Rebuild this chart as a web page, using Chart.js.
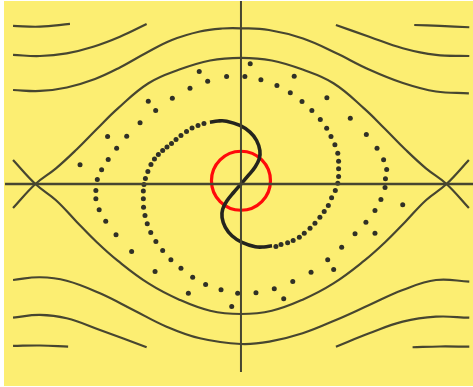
<!DOCTYPE html>
<html>
<head>
<meta charset="utf-8">
<script src="https://cdn.jsdelivr.net/npm/chart.js@4/dist/chart.umd.min.js"></script>
<style>
  html, body { margin: 0; padding: 0; background: #ffffff; }
  #wrap { width: 473px; height: 387px; }
</style>
</head>
<body>
<div id="wrap"><canvas id="phase" width="473" height="387"></canvas></div>
<script>
// Pendulum phase plane: x = angle / pi, y = momentum p.

// Separatrix sample angles and the two branches through the saddle points.
const separatrixX = [-1.109, -1, -0.9, -0.8, -0.7, -0.6, -0.45, -0.3, -0.15, 0, 0.15, 0.3, 0.45, 0.6, 0.7, 0.8, 0.9, 1, 1.109];
const separatrixUpper = [-0.37, 0, 0.24, 0.53, 0.85, 1.16, 1.55, 1.76, 1.90, 1.94, 1.90, 1.76, 1.55, 1.16, 0.85, 0.53, 0.24, 0, -0.37];
const separatrixLower = [0.37, 0, -0.25, -0.58, -0.90, -1.18, -1.53, -1.78, -1.95, -2.00, -1.95, -1.78, -1.53, -1.18, -0.90, -0.58, -0.25, 0, 0.37];

// Rotating orbits above the separatrix.
const rotUpperA = [[-1.109, 1.446], [-0.978, 1.431], [-0.847, 1.485], [-0.710, 1.615], [-0.589, 1.792], [-0.462, 2.015], [-0.336, 2.215], [-0.200, 2.346], [-0.092, 2.392], [0, 2.395], [0.136, 2.369], [0.302, 2.238], [0.462, 2.015], [0.623, 1.762], [0.788, 1.554], [0.949, 1.423], [1.109, 1.395]];
const rotUpperBLeft = [[-1.109, 1.985], [-0.978, 1.969], [-0.848, 2.010], [-0.719, 2.112], [-0.589, 2.266], [-0.459, 2.462]];
const rotUpperBRight = [[0.462, 2.446], [0.624, 2.266], [0.787, 2.088], [0.949, 1.985], [1.111, 1.969]];
const rotUpperCLeft = [[-1.109, 2.431], [-0.978, 2.420], [-0.832, 2.462]];
const rotUpperCRight = [[0.843, 2.446], [0.968, 2.431], [1.111, 2.411]];

// Rotating orbits below the separatrix.
const rotLowerA = [[-1.109, -1.477], [-0.978, -1.435], [-0.848, -1.488], [-0.686, -1.682], [-0.524, -1.938], [-0.362, -2.195], [-0.200, -2.374], [0, -2.462], [0.138, -2.426], [0.300, -2.297], [0.462, -2.092], [0.624, -1.862], [0.787, -1.631], [0.949, -1.477], [1.111, -1.503]];
const rotLowerBLeft = [[-1.109, -2.057], [-0.978, -2.015], [-0.848, -2.066], [-0.686, -2.246], [-0.459, -2.512]];
const rotLowerBRight = [[0.462, -2.503], [0.624, -2.297], [0.787, -2.118], [0.949, -2.042], [1.111, -2.057]];
const rotLowerCLeft = [[-1.109, -2.492], [-0.978, -2.485], [-0.841, -2.503]];
const rotLowerCRight = [[0.835, -2.512], [0.968, -2.500], [1.111, -2.503]];

// Sheared initial segment near the origin (continuous part).
const sCurve = [[-0.151, 0.951], [-0.112, 0.969], [-0.070, 0.966], [-0.005, 0.900], [0.044, 0.797], [0.076, 0.669], [0.092, 0.515], [0.089, 0.388], [0.068, 0.258], [0.036, 0.131], [0, 0], [-0.036, -0.131], [-0.068, -0.258], [-0.089, -0.388], [-0.092, -0.515], [-0.076, -0.669], [-0.044, -0.797], [0.005, -0.900], [0.070, -0.966], [0.112, -0.969], [0.151, -0.951]];

// The two spiral arms of iterated points leaving the ends of that segment.
const spiralArmA = [[-0.180, 0.931], [-0.209, 0.900], [-0.238, 0.862], [-0.265, 0.808], [-0.292, 0.746], [-0.316, 0.685], [-0.338, 0.623], [-0.360, 0.569], [-0.381, 0.515], [-0.402, 0.454], [-0.421, 0.385], [-0.438, 0.300], [-0.453, 0.192], [-0.465, 0.085], [-0.472, -0.008], [-0.475, -0.108], [-0.475, -0.228], [-0.474, -0.357], [-0.467, -0.485], [-0.456, -0.612], [-0.439, -0.746], [-0.414, -0.885], [-0.381, -1.023], [-0.341, -1.166], [-0.292, -1.295], [-0.235, -1.434], [-0.172, -1.546], [-0.097, -1.628], [-0.016, -1.680], [0.073, -1.674], [0.162, -1.612], [0.252, -1.500], [0.341, -1.357], [0.422, -1.166], [0.490, -0.972], [0.555, -0.766], [0.608, -0.588], [0.652, -0.408], [0.681, -0.238], [0.701, -0.054], [0.703, 0.080], [0.709, 0.223], [0.694, 0.372], [0.662, 0.551], [0.610, 0.762], [0.532, 1.012], [0.418, 1.326], [0.259, 1.658], [0.045, 1.849], [-0.203, 1.731], [-0.451, 1.274], [-0.649, 0.731], [-0.783, 0.295]];
const spiralArmB = [[0.170, -0.962], [0.195, -0.931], [0.227, -0.905], [0.254, -0.869], [0.284, -0.818], [0.308, -0.757], [0.336, -0.680], [0.360, -0.603], [0.384, -0.511], [0.405, -0.423], [0.425, -0.331], [0.441, -0.212], [0.459, -0.100], [0.471, 0.012], [0.475, 0.115], [0.475, 0.234], [0.475, 0.351], [0.471, 0.474], [0.457, 0.603], [0.438, 0.731], [0.417, 0.858], [0.386, 0.992], [0.345, 1.131], [0.297, 1.269], [0.240, 1.403], [0.175, 1.515], [0.097, 1.603], [0.019, 1.654], [-0.070, 1.654], [-0.162, 1.582], [-0.248, 1.474], [-0.334, 1.320], [-0.415, 1.131], [-0.491, 0.942], [-0.556, 0.735], [-0.605, 0.551], [-0.646, 0.377], [-0.678, 0.218], [-0.699, 0.069], [-0.706, -0.100], [-0.706, -0.228], [-0.690, -0.397], [-0.658, -0.572], [-0.608, -0.782], [-0.532, -1.038], [-0.418, -1.346], [-0.256, -1.680], [-0.045, -1.885], [0.208, -1.766], [0.451, -1.315], [0.652, -0.757], [0.787, -0.320]];

// Axis lines and the marked initial region.
const angleAxis = [[-1.148, 0], [1.129, 0]];
const momentumAxis = [[0, 2.815], [0, -2.892]];
const initialRegion = [[0, 0.05]];

const LINE = '#474630';
const DOT = '#303026';
const BG = '#fcee72';

const toPts = arr => arr.map(([x, y]) => ({ x, y }));
const zipPts = (xs, ys) => xs.map((x, i) => ({ x, y: ys[i] }));

function curve(points, extra) {
  return Object.assign({
    data: points,
    showLine: true,
    borderColor: LINE,
    borderWidth: 2.2,
    pointRadius: 0,
    tension: 0.4,
    fill: false
  }, extra || {});
}

const datasets = [
  curve(toPts(angleAxis), { tension: 0, borderWidth: 2.4 }),
  curve(toPts(momentumAxis), { tension: 0, borderWidth: 2 }),
  curve(zipPts(separatrixX, separatrixUpper)),
  curve(zipPts(separatrixX, separatrixLower)),
  curve(toPts(rotUpperA)),
  curve(toPts(rotUpperBLeft)),
  curve(toPts(rotUpperBRight)),
  curve(toPts(rotUpperCLeft)),
  curve(toPts(rotUpperCRight)),
  curve(toPts(rotLowerA)),
  curve(toPts(rotLowerBLeft)),
  curve(toPts(rotLowerBRight)),
  curve(toPts(rotLowerCLeft)),
  curve(toPts(rotLowerCRight)),
  curve(toPts(sCurve), { borderColor: '#24241e', borderWidth: 3.6 }),
  {
    data: toPts(spiralArmA),
    showLine: false,
    pointRadius: 2.5,
    pointBackgroundColor: DOT,
    pointBorderWidth: 0
  },
  {
    data: toPts(spiralArmB),
    showLine: false,
    pointRadius: 2.5,
    pointBackgroundColor: DOT,
    pointBorderWidth: 0
  },
  {
    data: toPts(initialRegion),
    showLine: false,
    pointStyle: 'circle',
    pointRadius: 29.5,
    pointBackgroundColor: 'rgba(0,0,0,0)',
    pointBorderColor: '#ff0a0a',
    pointBorderWidth: 3.2
  }
];

const paperBackground = {
  id: 'paperBackground',
  beforeDraw(chart) {
    const { ctx, chartArea } = chart;
    ctx.save();
    ctx.fillStyle = BG;
    ctx.fillRect(chartArea.left, chartArea.top, chartArea.right - chartArea.left, chartArea.bottom - chartArea.top);
    ctx.restore();
  }
};

new Chart(document.getElementById('phase'), {
  type: 'scatter',
  data: { datasets },
  options: {
    responsive: false,
    devicePixelRatio: 1,
    animation: false,
    layout: { autoPadding: false, padding: { left: 4, top: 1, right: 0, bottom: 1 } },
    plugins: { legend: { display: false }, tooltip: { enabled: false } },
    scales: {
      x: { type: 'linear', min: -1.153, max: 1.129, display: false },
      y: { type: 'linear', min: -3.108, max: 2.815, display: false }
    }
  },
  plugins: [paperBackground]
});
</script>
</body>
</html>
